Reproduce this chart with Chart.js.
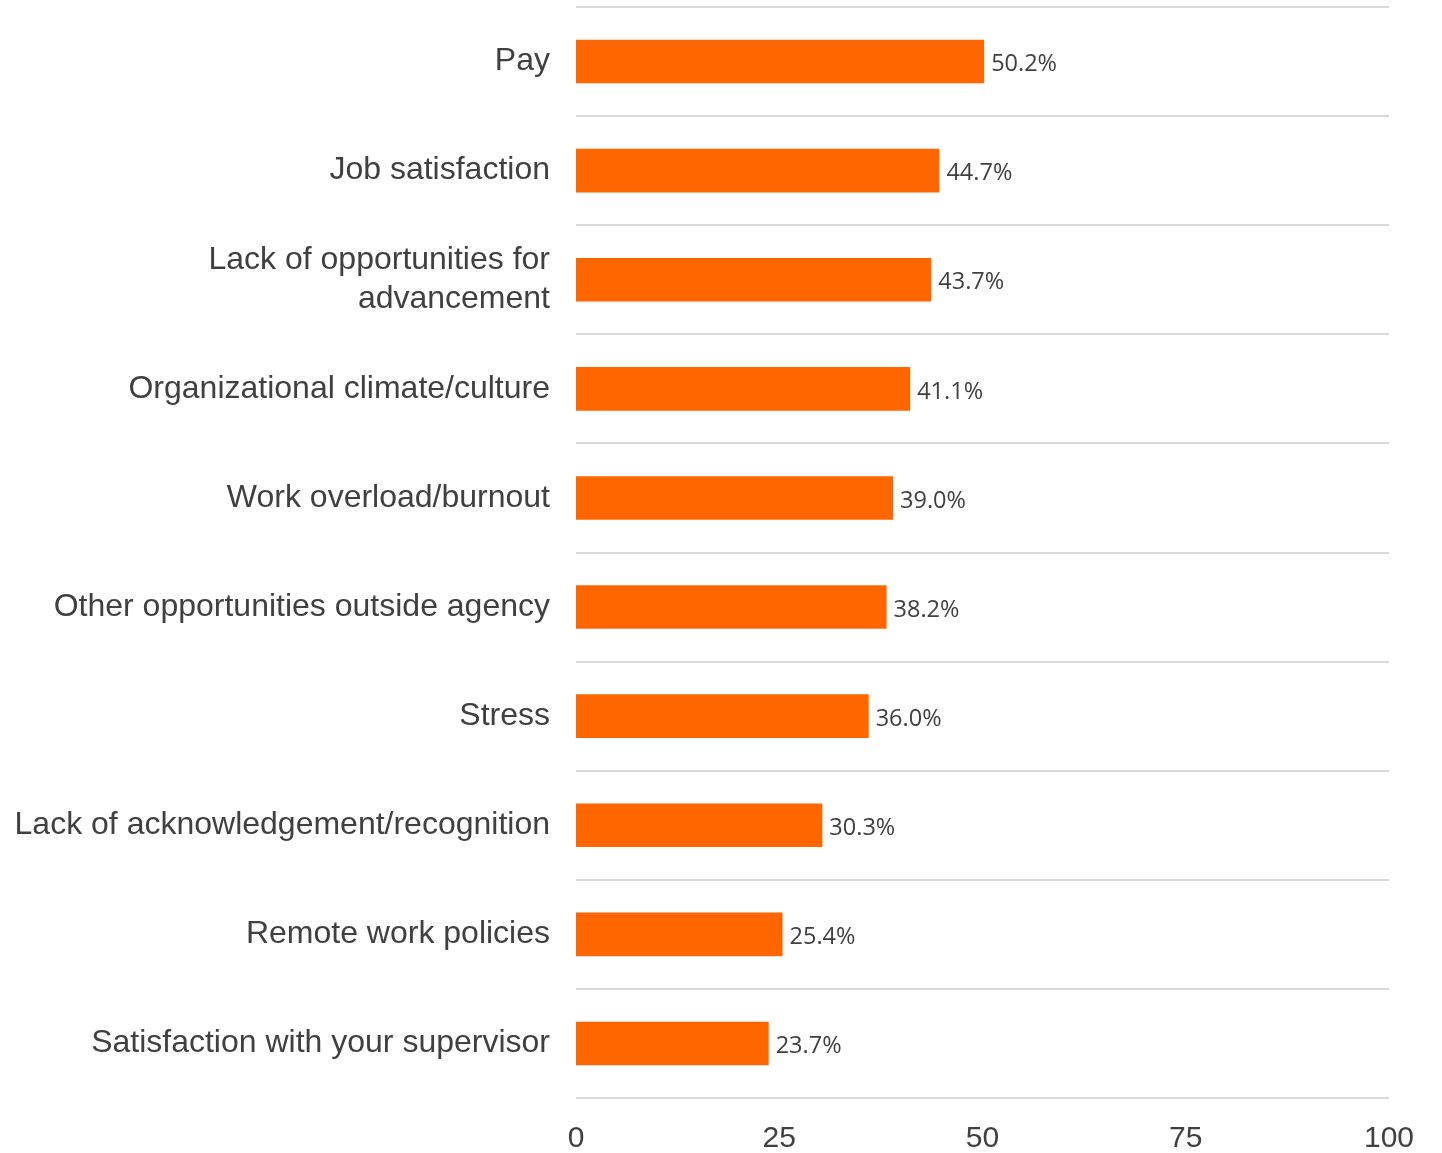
<!DOCTYPE html>
<html>
<head>
<meta charset="utf-8">
<script src="https://cdn.jsdelivr.net/npm/chart.js@4/dist/chart.umd.min.js"></script>
<style>
  html, body { margin: 0; padding: 0; background: #fff; }
  #wrap { width: 1442px; height: 1153px; }
</style>
</head>
<body>
<div id="wrap"><canvas id="reasons-chart"></canvas></div>
<script>
const categories = [
  'Pay',
  'Job satisfaction',
  ['Lack of opportunities for', 'advancement'],
  'Organizational climate/culture',
  'Work overload/burnout',
  'Other opportunities outside agency',
  'Stress',
  'Lack of acknowledgement/recognition',
  'Remote work policies',
  'Satisfaction with your supervisor'
];
const percentages = [50.2, 44.7, 43.7, 41.1, 39.0, 38.2, 36.0, 30.3, 25.4, 23.7];
const xTicks = [0, 25, 50, 75, 100];

// value labels drawn just past the end of each bar
const barValueLabels = {
  id: 'barValueLabels',
  afterDatasetsDraw(chart) {
    const ctx = chart.ctx;
    const meta = chart.getDatasetMeta(0);
    ctx.save();
    ctx.font = '23.5px "Open Sans"';
    ctx.fillStyle = '#404040';
    ctx.textAlign = 'left';
    ctx.textBaseline = 'middle';
    meta.data.forEach((bar, i) => {
      ctx.fillText(percentages[i].toFixed(1) + '%', bar.x + 7, bar.y + 3);
    });
    ctx.restore();
  }
};

const chartId = document.getElementById('reasons-chart').getContext('2d');

const myChart = new Chart(chartId, {
  type: 'bar',
  data: {
    labels: categories,
    datasets: [{
      label: 'Reasons',
      data: percentages,
      backgroundColor: '#ff6600',
      borderWidth: 0,
      barPercentage: 0.4,
      categoryPercentage: 1.0
    }]
  },
  options: {
    indexAxis: 'y',
    responsive: true,
    maintainAspectRatio: false,
    animation: false,
    layout: { padding: { top: 7, right: 53, left: 0, bottom: 0 } },
    plugins: {
      legend: { display: false },
      tooltip: { enabled: false }
    },
    scales: {
      x: {
        min: 0,
        max: 100,
        afterBuildTicks: axis => { axis.ticks = xTicks.map(v => ({ value: v })); },
        afterFit: axis => {
          axis.height = 55;
          axis.paddingLeft = 0;
          axis.paddingRight = 0;
        },
        grid: { display: false, drawTicks: false },
        border: { display: false },
        ticks: {
          padding: 23,
          maxRotation: 0,
          color: '#404040',
          font: { family: '"Liberation Sans", Arial, sans-serif', size: 30 }
        }
      },
      y: {
        afterFit: axis => {
          axis.width = 576;
          axis.paddingTop = 0;
          axis.paddingBottom = 0;
        },
        grid: { color: '#d9d9d9', lineWidth: 2, offset: true, drawTicks: false },
        border: { display: false },
        ticks: {
          padding: 26,
          color: '#404040',
          font: { family: '"Liberation Sans", Arial, sans-serif', size: 32, lineHeight: 1.2 }
        }
      }
    }
  },
  plugins: [barValueLabels]
});
</script>
</body>
</html>
